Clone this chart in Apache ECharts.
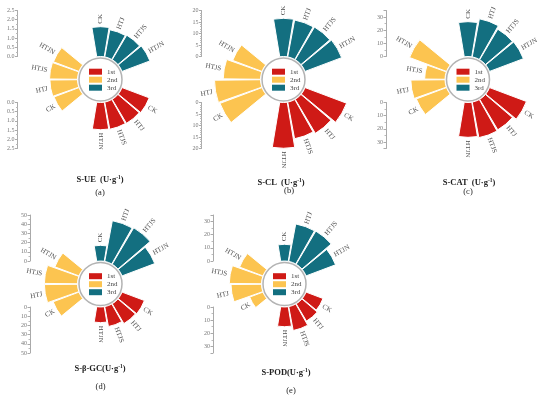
<!DOCTYPE html>
<html><head><meta charset="utf-8">
<script src="https://cdn.jsdelivr.net/npm/echarts@6/dist/echarts.min.js"></script>
<style>html,body{margin:0;padding:0;background:#fff}#c{width:550px;height:397px}</style>
</head><body><div id="c"></div>
<script>
// ---- data ----
const treatments = ['CK', 'HTJ', 'HTJS', 'HTJN'];
const groupNames = ['1st', '2nd', '3rd'];
const panelTitles = ['S-UE  ', 'S-CL  ', 'S-CAT  ', 'S-β-GC', 'S-POD'];
const panelCaptions = ['(a)', '(b)', '(c)', '(d)', '(e)'];
const panelMax = [2.5, 20, 35, 50, 35];
const panelInterval = [0.5, 5, 10, 10, 10];

const ue1st = [1.58, 1.52, 1.50, 1.48];
const ue2nd = [1.45, 1.50, 1.52, 1.48];
const ue3rd = [1.62, 1.50, 1.55, 1.62];

const cl1st = [19.3, 17.2, 16.2, 19.9];
const cl2nd = [19.5, 20.0, 16.2, 13.6];
const cl3rd = [16.6, 16.3, 16.5, 17.0];

const cat1st = [30.0, 27.0, 27.5, 26.5];
const cat2nd = [24.5, 26.0, 15.5, 30.0];
const cat3rd = [26.5, 29.5, 27.0, 27.5];

const gc1st = [26, 25, 22, 17];
const gc2nd = [30, 36, 36, 28];
const gc3rd = [17, 45, 46, 38];

const pod1st = [13.8, 15.3, 18.5, 15.0];
const pod2nd = [10.8, 23.2, 24.5, 19.0];
const pod3rd = [12.7, 29.0, 29.3, 24.0];

const panelData = [
  [ue1st, ue2nd, ue3rd],
  [cl1st, cl2nd, cl3rd],
  [cat1st, cat2nd, cat3rd],
  [gc1st, gc2nd, gc3rd],
  [pod1st, pod2nd, pod3rd]
];

// ---- layout / style ----
const groupColors = ['#CF1A16', '#FCC450', '#136F80'];
const groupSlotStart = [6, 12, 0];
const SLOTS = 18;
const centers = [[100.5, 79.5], [283.5, 79.5], [468, 79.5], [100.5, 284], [284.5, 284]];
const axisX = [17.5, 201.5, 386, 30, 213];
const titlePos = [[100, 180], [281, 182.5], [469, 182.5], [100, 369], [286, 373]];
const captionPos = [[100, 193], [289, 191.5], [468, 192.5], [100.5, 387], [291, 391]];
const R0 = 23, R1 = 69;
const FONT = '"Liberation Serif", "DejaVu Serif", serif';

const slotNames = Array.from({length: SLOTS}, (_, i) => 's' + i);

const option = {
  animation: false,
  backgroundColor: '#fff',
  polar: [], angleAxis: [], radiusAxis: [],
  grid: [], xAxis: [], yAxis: [],
  legend: [], title: [], graphic: [], series: []
};

centers.forEach((c, p) => {
  option.polar.push({center: c, radius: [R0, R1]});
  option.angleAxis.push({
    polarIndex: p, type: 'category', data: slotNames, startAngle: 100, clockwise: true,
    boundaryGap: true, axisLine: {show: false}, axisTick: {show: false},
    axisLabel: {show: false}, splitLine: {show: false}
  });
  option.radiusAxis.push({
    polarIndex: p, type: 'value', min: 0, max: panelMax[p],
    axisLine: {show: false}, axisTick: {show: false}, axisLabel: {show: false},
    splitLine: {show: false}
  });

  const labelItems = [];
  panelData[p].forEach((vals, g) => {
    const data = new Array(SLOTS).fill('-');
    vals.forEach((v, k) => {
      const slot = groupSlotStart[g] + k;
      data[slot] = v;
      const theta = slot * 360 / SLOTS;
      const right = theta <= 180;
      labelItems.push({
        name: treatments[k],
        value: [v, slot],
        label: {
          rotate: right ? 90 - theta : 270 - theta,
          align: right ? 'left' : 'right',
          padding: right ? [0, 0, 0, 3] : [0, 3, 0, 0]
        }
      });
    });
    option.series.push({
      type: 'bar', coordinateSystem: 'polar', polarIndex: p, name: groupNames[g],
      data: data, barGap: '-100%', barCategoryGap: '6%',
      itemStyle: {color: groupColors[g], borderColor: '#fff', borderWidth: 1}, silent: true
    });
  });
  option.series.push({
    type: 'scatter', coordinateSystem: 'polar', polarIndex: p, symbolSize: 1,
    itemStyle: {color: 'rgba(0,0,0,0)'}, silent: true, z: 6,
    label: {show: true, position: 'inside', formatter: '{b}', fontSize: 7,
            fontFamily: FONT, color: '#222', verticalAlign: 'middle'},
    data: labelItems
  });

  // scale axes (upper: outward up, lower: outward down)
  [false, true].forEach((inv) => {
    const gi = option.grid.length;
    option.grid.push({
      left: axisX[p], width: 1, height: R1 - R0,
      top: inv ? c[1] + R0 : c[1] - R1
    });
    option.xAxis.push({gridIndex: gi, type: 'value', show: false});
    option.yAxis.push({
      gridIndex: gi, type: 'value', min: 0, max: panelMax[p], interval: panelInterval[p],
      inverse: inv, position: 'left',
      axisLine: {show: true, lineStyle: {color: '#aaa', width: 1}},
      axisTick: {show: true, length: 2.5, lineStyle: {color: '#aaa'}},
      minorTick: {show: true, splitNumber: p === 1 ? 5 : 2, length: 1.5, lineStyle: {color: '#bbb'}},
      splitLine: {show: false},
      axisLabel: {
        fontSize: 6, color: '#777', fontFamily: FONT, margin: 3,
        showMaxLabel: (panelMax[p] / panelInterval[p]) % 1 === 0,
        formatter: (v) => p === 0 ? v.toFixed(1) : String(v)
      }
    });
  });

  option.graphic.push({
    type: 'circle', shape: {cx: c[0], cy: c[1], r: 21.5}, z: 5, silent: true,
    style: {fill: '#fff', stroke: '#b3b3b3', lineWidth: 1.5}
  });

  option.legend.push({
    data: groupNames, orient: 'vertical', left: c[0] - 11.5, top: c[1] - 11.3,
    itemWidth: 13, itemHeight: 6, itemGap: 1, padding: 0, icon: 'rect',
    selectedMode: false, z: 10,
    itemStyle: {borderWidth: 0, borderColor: 'transparent'},
    textStyle: {fontSize: 7, fontFamily: FONT, color: '#444'}
  });

  option.title.push({
    text: '{m|' + panelTitles[p] + '(U·g}{s|-1}{m|)}',
    left: titlePos[p][0], top: titlePos[p][1] - 5, textAlign: 'center', padding: 0,
    textStyle: {
      rich: {
        m: {fontSize: 8.5, fontWeight: 'bold', fontFamily: FONT, color: '#222'},
        s: {fontSize: 5.5, fontWeight: 'bold', fontFamily: FONT, color: '#222', verticalAlign: 'top', padding: [0, 0, 4, 0]}
      }
    }
  });
  option.title.push({
    text: panelCaptions[p], left: captionPos[p][0], top: captionPos[p][1] - 5,
    textAlign: 'center', padding: 0,
    textStyle: {fontSize: 8.5, fontWeight: 'normal', fontFamily: FONT, color: '#222'}
  });
});

const chart = echarts.init(document.getElementById('c'), null, {renderer: 'canvas'});
chart.setOption(option);
</script>
</body></html>
